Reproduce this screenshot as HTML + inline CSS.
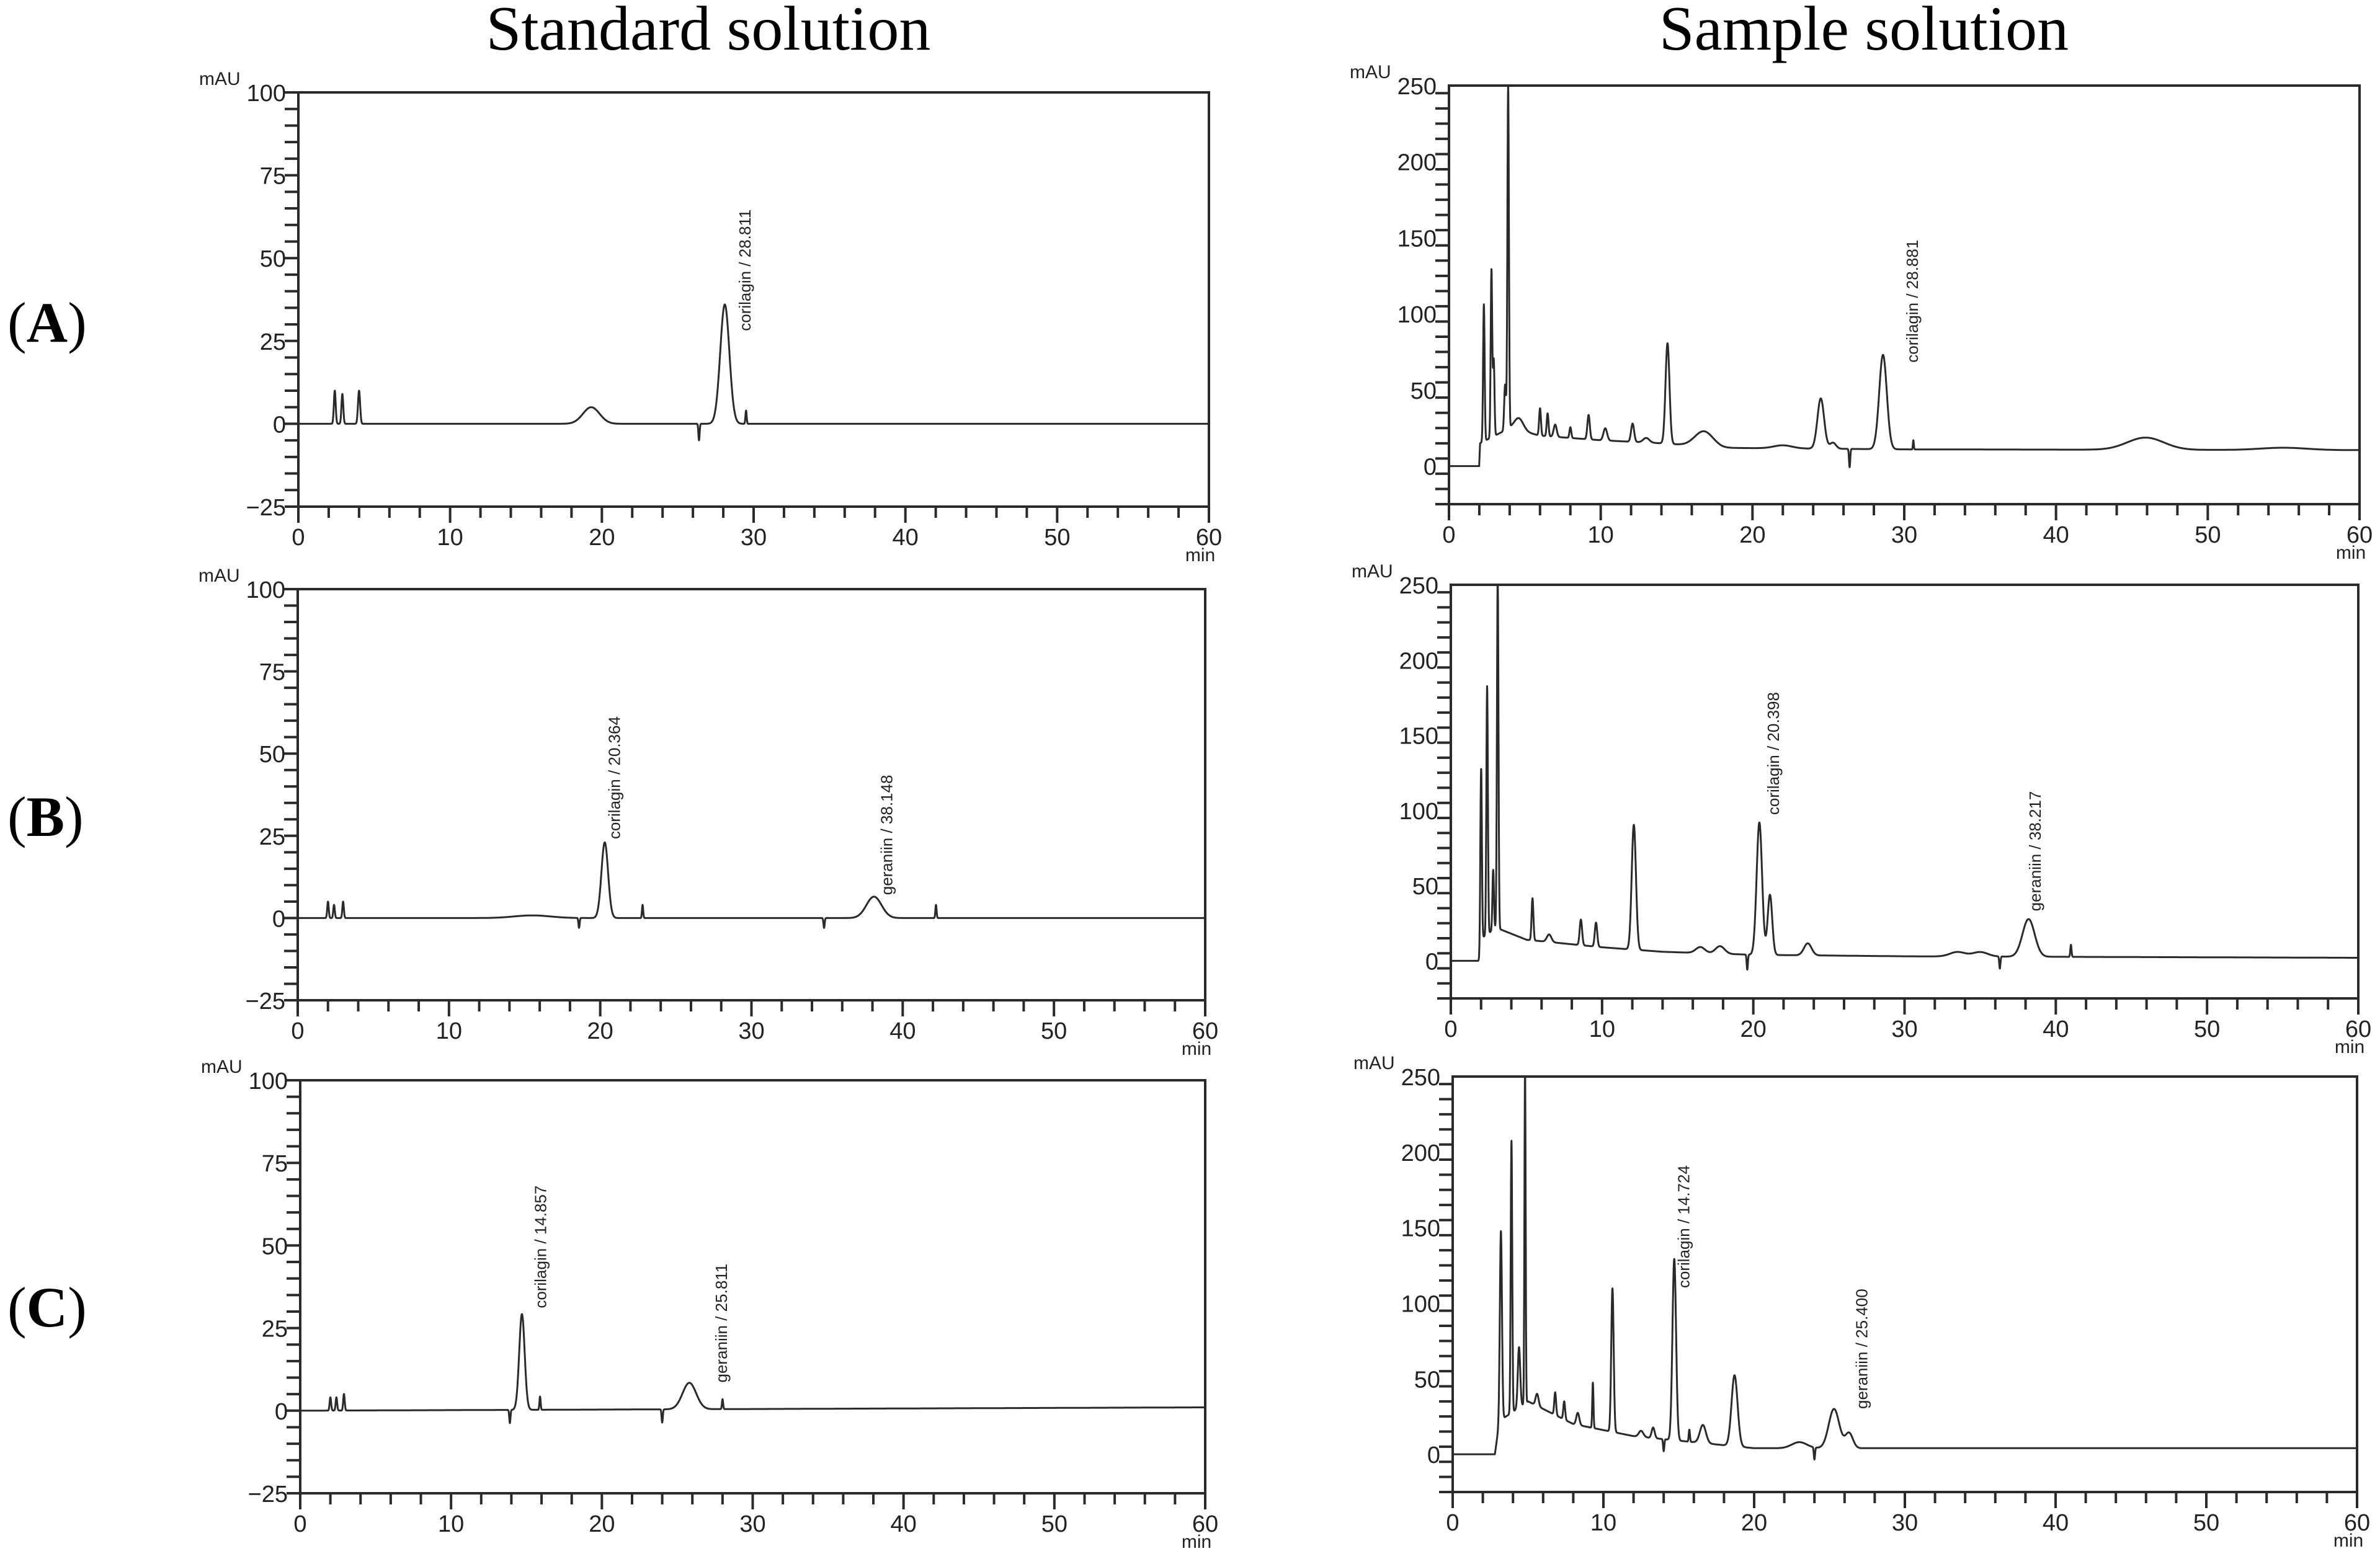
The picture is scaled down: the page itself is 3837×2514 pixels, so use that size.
<!DOCTYPE html>
<html><head><meta charset="utf-8">
<style>
html,body{margin:0;padding:0;background:#fff;}
svg{display:block;}
text{font-family:"Liberation Sans",sans-serif;}
</style></head>
<body>
<svg id="fig" width="3837" height="2514" viewBox="0 0 3837 2514" xmlns="http://www.w3.org/2000/svg">
<rect width="3837" height="2514" fill="#fff"/>
<text x="1142" y="80" font-size="102" text-anchor="middle" style="font-family:'Liberation Serif',serif">Standard solution</text>
<text x="3005" y="80" font-size="102" text-anchor="middle" style="font-family:'Liberation Serif',serif">Sample solution</text>
<text x="12" y="551" font-size="92" style="font-family:'Liberation Serif',serif">(<tspan font-weight="bold">A</tspan>)</text>
<text x="12" y="1348" font-size="92" style="font-family:'Liberation Serif',serif">(<tspan font-weight="bold">B</tspan>)</text>
<text x="12" y="2139" font-size="92" style="font-family:'Liberation Serif',serif">(<tspan font-weight="bold">C</tspan>)</text>
<g id="plots"></g>
</svg>
<script>
// ---- data: peaks as retention time (min), height above baseline (mAU), width (sigma, min)
const aStdRT=[2.4,2.9,4.0,19.3,28.1,29.5,26.4];
const aStdH=[10,9,10,5,36,4,-5];
const aStdW=[0.06,0.06,0.07,0.55,0.3,0.04,0.04];
const aStdBaseT=[0,60];
const aStdBaseV=[0,0];

const aSmpRT=[2.3,2.8,2.95,3.7,3.9,4.6,6.0,6.5,7.0,8.0,9.2,10.3,12.1,13.0,14.4,16.8,22.0,24.5,25.3,28.6,30.6,26.4,45.9,55.0];
const aSmpH=[90,110,50,30,225,8,18,15,8,7,16,8,12,3,66,10,2,33,4,62,6,-12,8,1.5];
const aSmpW=[0.05,0.05,0.05,0.06,0.05,0.3,0.06,0.06,0.1,0.06,0.08,0.12,0.1,0.2,0.13,0.6,0.6,0.22,0.2,0.25,0.03,0.04,1.2,1.5];
const aSmpBaseT=[0,1.99,2.05,4,6,10,14,18,30,60];
const aSmpBaseV=[0,0,15,25,20,17,15,12,11,10.5];

const bStdRT=[2.0,2.4,3.0,15.5,20.3,22.8,38.1,42.2,18.6,34.8];
const bStdH=[5,4,5,0.8,23,4,6.5,4,-3,-3];
const bStdW=[0.05,0.05,0.05,1.2,0.22,0.04,0.5,0.04,0.04,0.04];
const bStdBaseT=[0,60];
const bStdBaseV=[0,0];

const bSmpRT=[2.0,2.4,2.8,3.1,5.4,6.5,8.6,9.6,12.1,16.5,17.8,20.4,21.1,23.6,33.5,35,38.2,41.0,19.6,36.3];
const bSmpH=[125,165,40,235,28,5,17,16,83,4,5,88,40,8,3,3,25,8,-10,-8];
const bSmpW=[0.05,0.05,0.05,0.05,0.06,0.15,0.08,0.08,0.14,0.3,0.3,0.18,0.15,0.25,0.5,0.5,0.4,0.04,0.04,0.04];
const bSmpBaseT=[0,1.99,2.05,3,5,10,14,20,30,60];
const bSmpBaseV=[0,0,15,22,14,9,6,4,3,2];

const cStdRT=[2.0,2.4,2.9,14.7,15.9,25.8,28.0,13.9,24.0];
const cStdH=[4,4,5,29,4,8,3,-4,-4];
const cStdW=[0.05,0.05,0.05,0.18,0.04,0.45,0.04,0.04,0.04];
const cStdBaseT=[0,30,60];
const cStdBaseV=[0,0.5,1];

const cSmpRT=[3.2,3.9,4.4,4.8,5.6,6.8,7.4,8.3,9.3,10.6,12.5,13.3,14.7,15.7,16.6,18.7,23.0,25.3,26.3,14.0,24.0];
const cSmpH=[125,180,40,225,8,15,12,8,30,95,4,7,120,8,12,47,4,26,10,-8,-8];
const cSmpW=[0.07,0.05,0.08,0.04,0.1,0.06,0.06,0.1,0.04,0.08,0.15,0.1,0.12,0.04,0.2,0.2,0.5,0.35,0.25,0.04,0.04];
const cSmpBaseT=[0,2.8,3.1,5,8,12,16,20,27,60];
const cSmpBaseV=[0,0,22,35,20,12,8,4,4,4];

const stdYTicks=[-25,0,25,50,75,100];
const smpYTicks=[0,50,100,150,200,250];
const xTicks=[0,10,20,30,40,50,60];

const aStdLabels=["corilagin / 28.811"], aStdLabT=[29.8], aStdLabV=[28];
const aSmpLabels=["corilagin / 28.881"], aSmpLabT=[30.9], aSmpLabV=[68];
const bStdLabels=["corilagin / 20.364","geraniin / 38.148"], bStdLabT=[21.3,39.3], bStdLabV=[24,7];
const bSmpLabels=["corilagin / 20.398","geraniin / 38.217"], bSmpLabT=[21.7,39.0], bSmpLabV=[97,33];
const cStdLabels=["corilagin / 14.857","geraniin / 25.811"], cStdLabT=[16.3,28.3], cStdLabV=[31,8.5];
const cSmpLabels=["corilagin / 14.724","geraniin / 25.400"], cSmpLabT=[15.7,27.5], cSmpLabV=[110,30];

// ---- layout
const NS="http://www.w3.org/2000/svg";
const root=document.getElementById('plots');
function mk(tag,attrs,parent){const e=document.createElementNS(NS,tag);for(const k in attrs)e.setAttribute(k,attrs[k]);parent.appendChild(e);return e;}
function interp(t,T,V){if(t<=T[0])return V[0];for(let i=1;i<T.length;i++){if(t<=T[i]){const f=(t-T[i-1])/(T[i]-T[i-1]);return V[i-1]+f*(V[i]-V[i-1]);}}return V[V.length-1];}

function panel(name,L,R,T,B,ymin,ymax,yTicks,yMinor,RT,H,W,BT,BV,labs,labT,labV){
  const g=mk('g',{},root);
  
  
  const xs=t=>L+(t-0)/(60-0)*(R-L);
  const ys=v=>B-(v-ymin)/(ymax-ymin)*(B-T);
  let d='';
  for(let t=0;t<=60.0001;t+=0.01){
    let v=interp(t,BT,BV);
    for(let i=0;i<RT.length;i++){const z=(t-RT[i])/W[i];if(Math.abs(z)<6)v+=H[i]*Math.exp(-0.5*z*z);}
    v=Math.max(ymin,Math.min(ymax,v));
    d+=(d?'L':'M')+xs(t).toFixed(1)+' '+ys(v).toFixed(1);
  }
  const tr=mk('path',{d:d,fill:'none',stroke:'#2a2a2a','stroke-width':3,'stroke-linejoin':'round'},g);
  
  
  const fr=mk('path',{d:`M${L} ${B}L${L} ${T}L${R} ${T}L${R} ${B}Z`,fill:'none',stroke:'#2a2a2a','stroke-width':4},g);
  
  
  for(let t=0;t<=60;t+=2){
    const x=xs(t), major=(t%10===0);
    mk('line',{x1:x,y1:B,x2:x,y2:B+(major?26:18),stroke:'#2a2a2a','stroke-width':4},g);
  }
  xTicks.forEach(t=>{
    const tx=mk('text',{x:xs(t),y:B+62,'font-size':38,'text-anchor':'middle',fill:'#222'},g);
    tx.textContent=t;
    
    
  });
  const mn=mk('text',{x:R-14,y:B+88,'font-size':30,'text-anchor':'middle',fill:'#222'},g);
  mn.textContent='min';
  
  
  for(let v=ymin;v<=ymax+0.001;v+=yMinor){
    mk('line',{x1:L-22,y1:ys(v),x2:L,y2:ys(v),stroke:'#2a2a2a','stroke-width':4},g);
  }
  yTicks.forEach(v=>{
    const ty=mk('text',{x:L-20,y:ys(v)+14,'font-size':38,'text-anchor':'end',fill:'#222'},g);
    ty.textContent=(v<0?'\u2212'+(-v):v);
    
    
  });
  const mu=mk('text',{x:L-160,y:T-12,'font-size':30,fill:'#222'},g);
  mu.textContent='mAU';
  
  
  labs.forEach((s,i)=>{
    const x=xs(labT[i]), y=ys(labV[i]);
    const a=mk('text',{x:0,y:0,'font-size':26,fill:'#222',transform:`translate(${x} ${y}) rotate(-90)`},g);
    a.textContent=s;
    
    
  });
}

panel('chart-a-standard',481,1949,149,817,-25,100,stdYTicks,5,aStdRT,aStdH,aStdW,aStdBaseT,aStdBaseV,aStdLabels,aStdLabT,aStdLabV);
panel('chart-a-sample',2336,3804,138,813,-25,250,smpYTicks,10,aSmpRT,aSmpH,aSmpW,aSmpBaseT,aSmpBaseV,aSmpLabels,aSmpLabT,aSmpLabV);
panel('chart-b-standard',480,1943,950,1613,-25,100,stdYTicks,5,bStdRT,bStdH,bStdW,bStdBaseT,bStdBaseV,bStdLabels,bStdLabT,bStdLabV);
panel('chart-b-sample',2339,3802,943,1610,-25,250,smpYTicks,10,bSmpRT,bSmpH,bSmpW,bSmpBaseT,bSmpBaseV,bSmpLabels,bSmpLabT,bSmpLabV);
panel('chart-c-standard',484,1943,1742,2408,-25,100,stdYTicks,5,cStdRT,cStdH,cStdW,cStdBaseT,cStdBaseV,cStdLabels,cStdLabT,cStdLabV);
panel('chart-c-sample',2342,3800,1736,2406,-25,250,smpYTicks,10,cSmpRT,cSmpH,cSmpW,cSmpBaseT,cSmpBaseV,cSmpLabels,cSmpLabT,cSmpLabV);
</script>
</body></html>
